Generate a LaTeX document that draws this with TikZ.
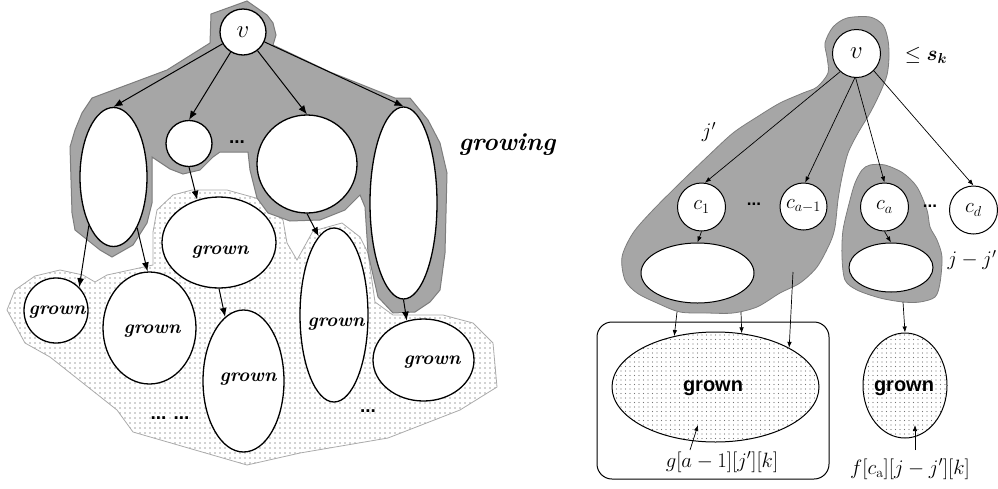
\documentclass[tikz,border=0pt]{standalone}
\usepackage{amsmath}
\usepackage{fontspec}
\newfontfamily\arialf{Liberation Sans}
\usetikzlibrary{shapes.geometric,arrows.meta,patterns.meta}
\definecolor{growgray}{RGB}{166,166,166}
\definecolor{growedge}{RGB}{125,125,125}
\definecolor{dotedge}{RGB}{170,170,170}
\tikzset{
  lel/.style={ellipse, draw, line width=1.3pt, fill=white, inner sep=0pt},
  rel/.style={ellipse, draw, line width=1pt, fill=white, inner sep=0pt},
  dotel/.style={ellipse, draw, line width=1pt, inner sep=0pt, pattern={Dots[distance=4.5pt,radius=0.55pt]}, pattern color=black!55},
  arr/.style={-{Latex[length=9pt,width=7pt]}, line width=1pt},
  rarr/.style={-{Latex[length=6pt,width=4.5pt]}, line width=0.7pt},
  gtxt/.style={font=\fontsize{19}{19}\selectfont\bfseries\itshape, inner sep=0pt},
  rtxt/.style={font=\fontsize{20}{20}\selectfont\arialf\bfseries, inner sep=0pt},
  mtxt/.style={font=\fontsize{20}{20}\selectfont, inner sep=0pt},
  ctxt/.style={font=\fontsize{22}{22}\selectfont},
  dotsl/.style={font=\fontsize{19}{19}\selectfont\arialf\bfseries, inner sep=0pt},
  grayreg/.style={fill=growgray, draw=growedge, line width=1pt},
}
\begin{document}
\begin{tikzpicture}[x=1pt,y=-1pt]
\useasboundingbox (0,0) rectangle (998,488);
% ---------- left: dotted (grown) region
\path[pattern={Dots[distance=5pt,radius=0.55pt]}, pattern color=black!75, draw=dotedge, line width=0.8pt]
 (7,310)--(15,290)--(35,276)--(60,270)--(83,275)--(95,282)--(107,275)--(153,265)--(153,232)--(157,210)--(173,195)--(192,190)--(227,190)--(263,200)--(283,220)--(287,243)--(297,260)--(313,231)--(342,223)--(360,237)--(368,253)--(375,302)--(393,315)--(443,315)--(473,323)--(493,343)--(497,387)--(460,410)--(388,438)--(300,453)--(247,465)--(133,432)--(117,410)--(50,357)--(25,343)--cycle;
% ---------- left: gray (growing) region
\path[grayreg]
 (211,14)--(247,1)--(267,15)--(273,23)--(276,35)--(273,45)--(330,72)--(395,98)--(410,98)--(428,120)--(440,143)--(447,173)--(445,253)--(440,290)--(430,302)--(415,312)--(393,313)--(378,297)--(368,253)--(365,207)--(360,195)--(345,210)--(320,220)--(290,221)--(268,213)--(257,198)--(250,170)--(248,152)--(220,152)--(213,157)--(200,170)--(183,174)--(170,169)--(152,157)--(152,203)--(147,223)--(133,245)--(112,257)--(100,250)--(75,230)--(72,213)--(70,147)--(75,130)--(82,113)--(92,98)--(167,70)--(210,43)--cycle;
% ---------- left nodes
\node[lel, circle, minimum size=46pt] (lv) at (243,32) {\fontsize{26}{26}\selectfont$v$};
\node[lel, minimum width=67pt, minimum height=139pt] (e1) at (113.5,177) {};
\node[lel, circle, minimum size=46pt] (s) at (189,143.5) {};
\node[lel, minimum width=100pt, minimum height=98pt] (b) at (307,164) {};
\node[lel, minimum width=67pt, minimum height=192pt] (t) at (403.5,203) {};
\node[lel, minimum width=64pt, minimum height=65pt] (g1) at (56,310.5) {};
\node[lel, minimum width=93pt, minimum height=112pt] (g2) at (149.5,328) {};
\node[lel, minimum width=114pt, minimum height=91pt] (g3) at (219,242.5) {};
\node[lel, minimum width=81pt, minimum height=142pt] (g4) at (243.5,381) {};
\node[lel, minimum width=68pt, minimum height=174pt] (g5) at (334,315) {};
\node[lel, minimum width=101pt, minimum height=82pt] (g6) at (423.5,360) {};
\node[gtxt] (g1t) at (57,312) {grown};
\node[gtxt] (g2t) at (152,331) {grown};
\node[gtxt] (g3t) at (220,252) {grown};
\node[gtxt] (g4t) at (248,379) {grown};
\node[gtxt] (g5t) at (336,324) {grown};
\node[gtxt] (g6t) at (432,362) {grown};
\node[font=\fontsize{25}{25}\selectfont\bfseries\itshape, inner sep=0pt] (growing) at (507,145) {growing};
\node[dotsl] (ld1) at (237,142) {...};
\node[dotsl] (ld2) at (170,418) {... ...};
\node[dotsl] (ld3) at (368,411) {...};
% ---------- left arrows
\draw[arr] (lv) -- (e1.north);
\draw[arr] (lv) -- (s.north);
\draw[arr] (lv) -- (b.north);
\draw[arr] (lv) -- (t.north);
\draw[arr] (e1.243) -- (g1.45);
\draw[arr] (e1.295) -- (g2.92);
\draw[arr] (s.south) -- (g3.117);
\draw[arr] (g3.south) -- (g4.106);
\draw[arr] (b.south) -- (g5.101);
\draw[arr] (t.south) -- (g6.113);
% ---------- right: gray regions
\path[grayreg, line width=0.8pt] plot[smooth cycle, tension=0.5] coordinates {
 (847,18) (870,17) (883,25) (888,40) (889,57) (887,75) (880,93) (870,113) (858,133) (848,153) (842,177) (838,200) (835,227) (830,243) (817,267) (800,283) (780,293) (757,307) (733,313) (707,313) (680,312) (657,303) (637,293) (625,280) (622,257) (633,233) (653,210) (680,183) (707,157) (733,133) (757,117) (780,103) (803,93) (817,87) (828,73) (827,57) (825,43) (833,27)};
\path[grayreg, line width=0.8pt] plot[smooth cycle, tension=0.5] coordinates {
 (870,165) (885,165) (903,173) (917,187) (927,210) (930,227) (937,240) (942,257) (940,283) (935,297) (920,302) (903,302) (880,298) (857,290) (845,280) (842,257) (843,230) (850,200) (855,183) (862,170)};
% ---------- right nodes
\draw[line width=1pt, rounded corners=15pt] (597,322) rectangle (829,479);
\node[rel, circle, minimum size=48pt] (rv) at (856.5,53.5) {\fontsize{23}{23}\selectfont$v$};
\node[rel, circle, minimum size=48pt, ctxt] (c1) at (701.5,207) {$c_1$};
\node[rel, circle, minimum size=47pt, ctxt] (ca1) at (803.5,206.5) {$c_{a-1}$};
\node[rel, circle, minimum size=48pt, ctxt] (ca) at (884.5,207) {$c_a$};
\node[rel, circle, minimum size=48pt, ctxt] (cd) at (973.5,210) {$c_d$};
\node[rel, minimum width=113pt, minimum height=60pt] (le) at (697.5,273) {};
\node[rel, minimum width=84pt, minimum height=49pt] (re) at (891,267.5) {};
\node[dotel, minimum width=207pt, minimum height=110pt] (ge) at (715.5,387) {};
\node[dotel, minimum width=84pt, minimum height=105pt] (ge2) at (905,385.5) {};
\node[rtxt] (get) at (713,388) {grown};
\node[rtxt] (ge2t) at (904,388) {grown};
\node[dotsl, font=\fontsize{17}{17}\selectfont\arialf\bfseries] (rd1) at (754,204) {...};
\node[dotsl, font=\fontsize{17}{17}\selectfont\arialf\bfseries] (rd2) at (930,206) {...};
\node[mtxt] (sk) at (926,55) {$\leq \boldsymbol{s_k}$};
\node[mtxt] (jp) at (709,132) {$j'$};
\node[mtxt] (jjp) at (972,260) {$j-j'$};
\node[mtxt] (glab) at (722,462) {$g[a-1][j'][k]$};
\node[mtxt] (flab) at (910,469) {$f[c_{\mathrm{a}}][j-j'][k]$};
% ---------- right arrows
\draw[rarr] (rv.228) -- (c1.82);
\draw[rarr] (rv.266) -- (ca1.86);
\draw[rarr] (rv.268) -- (ca.north);
\draw[rarr] (rv.315) -- (cd.north);
\draw[rarr] (c1.south) -- (le.north);
\draw[rarr] (ca.south) -- (re.north);
\coordinate (a1) at (677,312);
\coordinate (a2) at (741,312);
\coordinate (a3) at (793,272);
\coordinate (a4) at (903,302);
\draw[rarr] (a1) -- (ge.129.7);
\draw[rarr] (a2) -- (ge.64.7);
\draw[rarr] (a3) -- (ge.28);
\draw[rarr] (a4) -- (ge2.north);
\coordinate (q1) at (690,450);
\coordinate (p1) at (698,425);
\coordinate (q2) at (915,450);
\coordinate (p2) at (915,425);
\draw[rarr] (q1) -- (p1);
\draw[rarr] (q2) -- (p2);
\end{tikzpicture}
\end{document}
